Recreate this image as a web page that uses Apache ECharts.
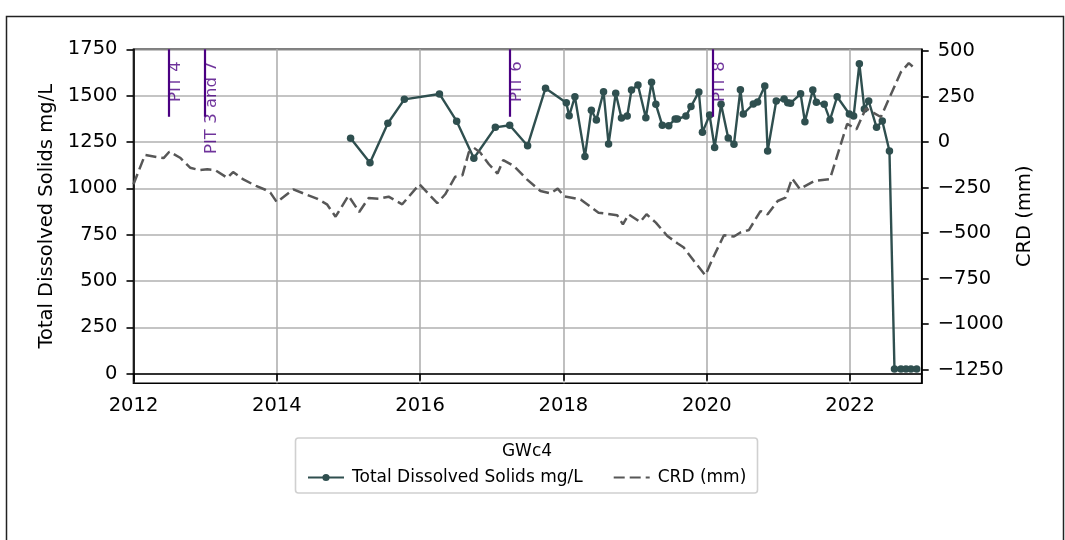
<!DOCTYPE html>
<html>
<head>
<meta charset="utf-8">
<script src="https://cdn.jsdelivr.net/npm/echarts@6/dist/echarts.min.js"></script>
<style>
html,body{margin:0;padding:0;background:#fff;}
#chart{width:1065px;height:540px;}
</style>
</head>
<body>
<div id="chart"></div>
<script>
// ---- data (dates as decimal years) ----
const tdsYears = [2015.03,2015.30,2015.55,2015.78,2016.27,2016.51,2016.75,2017.05,2017.25,2017.50,2017.75,2018.04,2018.08,2018.16,2018.30,2018.39,2018.46,2018.56,2018.63,2018.73,2018.81,2018.89,2018.95,2019.04,2019.15,2019.23,2019.29,2019.38,2019.47,2019.56,2019.59,2019.71,2019.78,2019.89,2019.94,2020.04,2020.11,2020.20,2020.30,2020.38,2020.47,2020.51,2020.65,2020.71,2020.81,2020.85,2020.97,2021.08,2021.13,2021.17,2021.31,2021.37,2021.48,2021.53,2021.64,2021.72,2021.82,2021.99,2022.05,2022.13,2022.20,2022.26,2022.37,2022.45,2022.55,2022.62,2022.71,2022.78,2022.85,2022.93];
const tdsValues = [1270,1138,1351,1480,1509,1362,1162,1329,1340,1230,1540,1462,1391,1494,1171,1421,1369,1521,1239,1513,1379,1390,1530,1557,1381,1572,1453,1340,1338,1374,1374,1390,1441,1520,1302,1395,1220,1453,1271,1238,1532,1401,1455,1466,1552,1201,1471,1482,1462,1459,1510,1359,1530,1464,1453,1369,1494,1401,1390,1672,1428,1471,1329,1363,1201,25,25,25,25,25];

const crdYears = [2012.00,2012.16,2012.32,2012.42,2012.50,2012.65,2012.79,2012.92,2013.03,2013.14,2013.31,2013.39,2013.54,2013.71,2013.84,2013.91,2014.00,2014.23,2014.37,2014.56,2014.70,2014.82,2015.00,2015.15,2015.28,2015.42,2015.56,2015.75,2015.99,2016.24,2016.35,2016.49,2016.59,2016.68,2016.75,2016.84,2016.96,2017.08,2017.16,2017.31,2017.49,2017.68,2017.82,2017.92,2018.01,2018.24,2018.49,2018.75,2018.83,2018.91,2019.07,2019.16,2019.29,2019.45,2019.59,2019.68,2019.82,2019.98,2020.10,2020.24,2020.38,2020.47,2020.59,2020.75,2020.85,2020.99,2021.10,2021.19,2021.30,2021.50,2021.72,2021.96,2022.09,2022.22,2022.43,2022.71,2022.82,2022.89];
const crdValues = [-232,-71,-82,-88,-53,-86,-141,-154,-150,-154,-197,-165,-207,-241,-262,-278,-330,-260,-282,-311,-342,-410,-295,-384,-308,-311,-300,-342,-232,-336,-287,-190,-183,-55,-31,-58,-122,-173,-99,-132,-205,-269,-282,-256,-298,-316,-388,-402,-452,-397,-439,-397,-443,-516,-556,-580,-653,-732,-626,-512,-519,-497,-483,-379,-397,-324,-305,-200,-258,-214,-203,100,70,185,138,385,434,410];

const pitNames = ['PIT 4','PIT 3 and 7','PIT 6','PIT 8'];
const pitYears = [2012.49,2012.99,2017.25,2020.08];

const xTicks = [2012,2014,2016,2018,2020,2022];
const leftTicks = [0,250,500,750,1000,1250,1500,1750];
const rightTicks = [-1250,-1000,-750,-500,-250,0,250,500];

const tdsName = 'Total Dissolved Solids mg/L';
const crdName = 'CRD (mm)';
const legendTitle = 'GWc4';

// ---- chart ----
const FONT = 'DejaVu Sans';
const minus = v => String(v).replace('-', '\u2212');
const chart = echarts.init(document.getElementById('chart'), null, {renderer:'canvas'});

const pitLineTop = 1750, pitLineBottom = 1386;

chart.setOption({
  animation: false,
  backgroundColor: '#ffffff',
  textStyle: {fontFamily: FONT},
  grid: {left: 133.5, top: 49.3, width: 788.2, height: 334, show: true, borderColor: '#000', borderWidth: 1.6, containLabel: false},
  xAxis: {
    type: 'value', min: 2012, max: 2023,
    axisLine: {show: true, lineStyle: {color: '#000', width: 1.6}},
    axisTick: {show: true, length: 7, lineStyle: {color: '#000', width: 1.6}, customValues: xTicks},
    axisLabel: {customValues: xTicks, formatter: v => String(v), color: '#000', fontSize: 19.5, fontFamily: FONT, margin: 13},
    splitLine: {show: true, lineStyle: {color: '#b0b0b0', width: 1.6}}
  },
  yAxis: [{
    type: 'value', min: -52, max: 1750, position: 'left',
    name: tdsName, nameLocation: 'middle', nameRotate: 90, nameGap: 77,
    nameTextStyle: {color: '#000', fontSize: 19.5, fontFamily: FONT},
    axisLine: {show: true, lineStyle: {color: '#000', width: 1.6}},
    axisTick: {show: true, length: 7, lineStyle: {color: '#000', width: 1.6}, customValues: leftTicks},
    axisLabel: {customValues: leftTicks, formatter: v => minus(v), color: '#000', fontSize: 19.5, fontFamily: FONT, margin: 16},
    splitLine: {show: true, lineStyle: {color: '#b0b0b0', width: 1.6}}
  }, {
    type: 'value', min: -1326, max: 510, position: 'right',
    name: crdName, nameLocation: 'middle', nameRotate: 90, nameGap: 88,
    nameTextStyle: {color: '#000', fontSize: 19.5, fontFamily: FONT},
    axisLine: {show: true, lineStyle: {color: '#000', width: 1.6}},
    axisTick: {show: true, length: 7, lineStyle: {color: '#000', width: 1.6}, customValues: rightTicks},
    axisLabel: {customValues: rightTicks, formatter: v => minus(v), color: '#000', fontSize: 19.5, fontFamily: FONT, margin: 16},
    splitLine: {show: false}
  }],
  legend: {
    data: [tdsName, {name: crdName, itemStyle: {opacity: 0}}],
    left: 302, top: 464,
    itemWidth: 36, itemHeight: 9, itemGap: 30,
    textStyle: {fontSize: 17, fontFamily: FONT, color: '#000', padding: [0,0,0,3]},
    selectedMode: false
  },
  series: [{
    name: tdsName, type: 'line', yAxisIndex: 0, z: 3,
    data: tdsYears.map((x, i) => [x, tdsValues[i]]),
    symbol: 'circle', symbolSize: 7.5, showSymbol: true,
    lineStyle: {color: '#2f4f4f', width: 2.4},
    itemStyle: {color: '#2f4f4f'},
    markLine: {
      silent: true, symbol: ['none','none'],
      label: {show: false},
      lineStyle: {color: '#4b0082', width: 2.2, type: 'solid'},
      data: pitYears.map(x => [{coord: [x, pitLineBottom]}, {coord: [x, pitLineTop]}])
    }
  }, {
    name: crdName, type: 'line', yAxisIndex: 1, z: 4,
    data: crdYears.map((x, i) => [x, crdValues[i]]),
    showSymbol: false, symbol: 'none',
    lineStyle: {color: '#575757', width: 2.5, type: [11, 5]},
    itemStyle: {color: '#575757'}
  }, {
    name: 'pits', type: 'scatter', yAxisIndex: 0, silent: true, z: 5,
    symbolSize: 0,
    data: pitYears.map((x, i) => ({value: [x, pitLineTop], name: pitNames[i]})),
    label: {
      show: true, formatter: p => p.name, rotate: 90,
      position: [-1, 12], align: 'right', verticalAlign: 'top',
      color: '#4b0082', fontSize: 16.5, fontFamily: FONT
    }
  }],
  graphic: [
    {type: 'polyline', silent: true, shape: {points: [[6.5, 540], [6.5, 16.5], [1063.5, 16.5], [1063.5, 540]]}, style: {stroke: '#222', lineWidth: 1.5, fill: null}},
    {type: 'rect', silent: true, z: -1, shape: {x: 295.5, y: 438, width: 462, height: 55, r: 3}, style: {fill: '#fff', stroke: '#d0d0d0', lineWidth: 1.6}},
    {type: 'text', silent: true, style: {text: legendTitle, x: 527, y: 452, align: 'center', verticalAlign: 'middle', font: '17px "DejaVu Sans"', fill: '#000'}}
  ]
});
</script>
</body>
</html>
